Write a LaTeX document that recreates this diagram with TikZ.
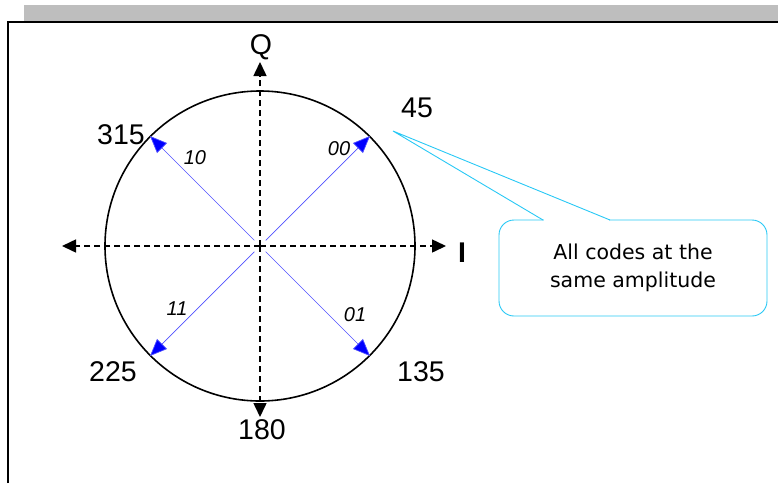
\documentclass[tikz,border=0pt]{standalone}
\usepackage{fontspec}
\setmainfont{Liberation Sans}
\newfontfamily\calloutfont{DejaVu Sans}
\usetikzlibrary{arrows.meta}
\definecolor{bargray}{RGB}{190,190,190}
\definecolor{callcyan}{RGB}{40,200,245}
\definecolor{vecblue}{RGB}{0,0,255}
\definecolor{veclineblue}{RGB}{80,80,255}
\tikzset{
  axisline/.style={line width=1.5pt, dash pattern=on 6pt off 4pt, -{Triangle[length=14pt,width=13pt]}},
  vec/.style={draw=veclineblue, line width=0.7pt, shorten <=8pt, -{Triangle[length=17pt,width=14pt,fill=vecblue]}},
  angle/.style={font=\fontsize{28.5}{32}\selectfont, inner sep=0pt},
  code/.style={font=\fontsize{20}{24}\selectfont\itshape, inner sep=0pt},
}
\begin{document}
\begin{tikzpicture}[x=1pt,y=-1pt]
\useasboundingbox (0,0) rectangle (778,483);
% frame
\fill[bargray] (24,5) rectangle (778,21);
\draw[line width=1.6pt] (8,483) -- (8,22) -- (778,22);
% circle
\coordinate (O) at (260,246);
\draw[line width=1.6pt] (O) circle[radius=155];
% axes
\coordinate (Ltip) at (62,246);
\coordinate (Rtip) at (446,246);
\coordinate (Ttip) at (260,62);
\coordinate (Btip) at (260,417);
\draw[axisline] (O) -- (Ltip);
\draw[axisline] (O) -- (Rtip);
\draw[axisline] (O) -- (Ttip);
\draw[axisline] (O) -- (Btip);
% vectors
\coordinate (P45) at (370,136);
\coordinate (P315) at (150,136);
\coordinate (P225) at (150,356);
\coordinate (P135) at (370,356);
\draw[vec] (O) -- (P45);
\draw[vec] (O) -- (P315);
\draw[vec] (O) -- (P225);
\draw[vec] (O) -- (P135);
% labels
\node[angle] (q) at (261,47) {Q};
\node[angle, font=\fontsize{28.5}{32}\selectfont\bfseries] (i) at (462,253) {I};
\node[angle] (l45) at (417,108) {45};
\node[angle] (l315) at (121,135) {315};
\node[angle] (l225) at (113,372) {225};
\node[angle] (l135) at (421,372) {135};
\node[angle] (l180) at (262,430) {180};
\node[code] (c10) at (195,158) {10};
\node[code] (c00) at (339,149) {00};
\node[code] (c11) at (177,309) {11};
\node[code] (c01) at (355,315) {01};
% callout
\node[draw=callcyan, line width=0.9pt, rounded corners=15pt, minimum width=268pt, minimum height=96pt, inner sep=0pt,
      align=center, font=\calloutfont\fontsize{20.5}{28}\selectfont, text=black] (call) at (633,268)
  {All codes at the\\same amplitude};
\coordinate (tail) at (393,131);
\coordinate (ta) at (543,220);
\coordinate (tb) at (610,220);
\draw[white, line width=2.5pt] ([xshift=0.8pt]ta) -- ([xshift=-0.8pt]tb);
\draw[callcyan, line width=0.9pt] (ta) -- (tail) -- (tb);
\end{tikzpicture}
\end{document}
